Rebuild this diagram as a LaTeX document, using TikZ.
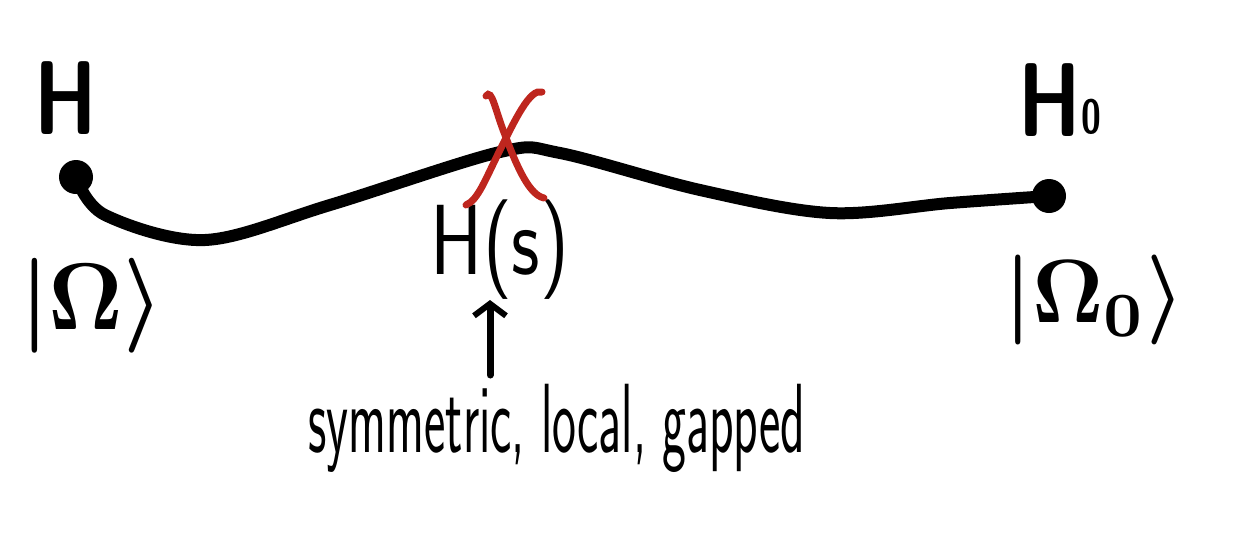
\documentclass[tikz,border=0pt]{standalone}
\usetikzlibrary{arrows.meta}
\definecolor{xred}{RGB}{190,38,30}
\begin{document}
\begin{tikzpicture}[x=1pt,y=-1pt,
  lbl/.style={inner sep=0pt, font=\sffamily\bfseries\fontsize{105}{105}\selectfont},
  mid/.style={inner sep=0pt, font=\sffamily\fontsize{105}{105}\selectfont},
  mlbl/.style={inner sep=0pt, font=\mathversion{bold}},
  small/.style={inner sep=0pt, font=\sffamily\fontsize{82}{82}\selectfont},
  dot/.style={circle, fill=black, inner sep=0pt, minimum size=34pt},
  wire/.style={line width=12pt, line cap=round, line join=round},
  cross/.style={xred, line width=7pt, line cap=round}]
\useasboundingbox (0,0) rectangle (1246,542);
% end points
\node[dot] (L) at (76,177) {};
\node[dot] (R) at (1049,196) {};
% labels
\node[lbl] (H) at (66,98) {\scalebox{0.75}[1]{H}};
\node[lbl] (H0) at (1060,100) {\scalebox{0.75}[1]{H\raisebox{0.03em}{\fontsize{48}{48}\selectfont 0}}};
\node[mlbl] (Om) at (92,306) {\scalebox{9}[9.5]{$|\Omega\rangle$}};
\node[mlbl] (Om0) at (1095,300) {\scalebox{8.6}[9]{$|\Omega_{\mathbf 0}\rangle$}};
\node[mid] (Hs) at (500,250) {\scalebox{0.75}[0.95]{H(s)}};
\node[small] (txt) at (557,428) {\scalebox{0.62}[1.2]{symmetric, local, gapped}};
% path
\coordinate (c1) at (205,240);
\coordinate (c2) at (500,152);
\coordinate (c3) at (560,153);
\coordinate (c4) at (830,213);
\coordinate (c5) at (950,203);
\draw[wire] plot[smooth, tension=0.55] coordinates {(L.center) (105,215) (c1) (330,205) (c2) (c3) (700,190) (c4) (c5) (R.center)};
% red X
\draw[cross] (486,96) .. controls (492,88) and (495,110) .. (505,135) .. controls (518,170) and (530,195) .. (544,198);
\draw[cross] (542,92) .. controls (530,88) and (515,120) .. (500,150) .. controls (485,180) and (478,200) .. (466,205);
% arrow
\coordinate (a0) at (490,375);
\draw[line width=7pt, line cap=round, -{Straight Barb[length=12pt, width=32pt, line width=6pt]}] (a0) -- (Hs.south -| a0);
\end{tikzpicture}
\end{document}
